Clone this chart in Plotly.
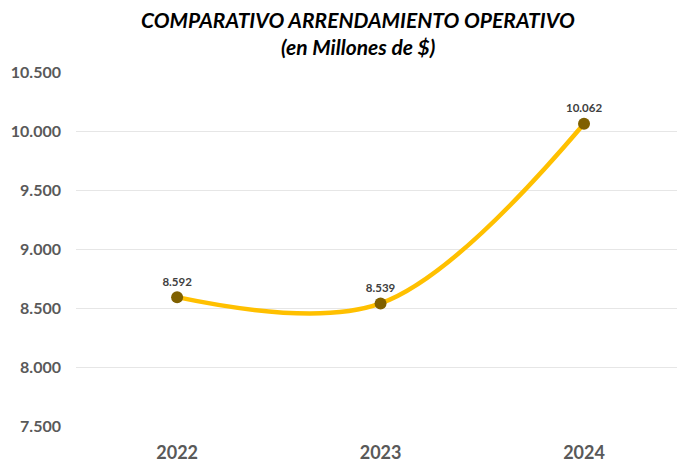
import plotly.graph_objects as go

years = ["2022", "2023", "2024"]
values = [8592, 8539, 10062]
labels = ["8.592", "8.539", "10.062"]
ytick_vals = [7500, 8000, 8500, 9000, 9500, 10000, 10500]
ytick_text = ["7.500", "8.000", "8.500", "9.000", "9.500", "10.000", "10.500"]
title_lines = ["COMPARATIVO ARRENDAMIENTO OPERATIVO", "(en Millones de $)"]

FONT = "Lato, Open Sans, sans-serif"

fig = go.Figure()
fig.add_trace(go.Scatter(
    x=list(range(len(years))), y=values,
    mode="lines+markers+text",
    line=dict(color="#FFC000", width=4.5, shape="spline", smoothing=1.0),
    marker=dict(color="#7F6000", size=12),
    text=labels, textposition="top center",
    textfont=dict(family=FONT, size=11.5, color="#404040", weight="bold"),
    cliponaxis=False,
    hoverinfo="skip",
))

for line, ypos in zip(title_lines, [1.149, 1.073]):
    fig.add_annotation(
        text=f"<b><i>{line}</i></b>", showarrow=False,
        xref="paper", yref="paper", x=0.469, y=ypos,
        xanchor="center", yanchor="middle",
        font=dict(family=FONT, size=21, color="#000000"),
    )

fig.update_layout(
    width=677, height=463,
    margin=dict(l=76, r=0, t=72, b=35),
    paper_bgcolor="white", plot_bgcolor="white",
    showlegend=False,
    xaxis=dict(
        range=[-0.497, 2.457],
        tickvals=list(range(len(years))), ticktext=years,
        showgrid=False, zeroline=False, showline=False,
        tickfont=dict(family=FONT, size=18, color="#595959", weight="bold"),
        ticks="", ticklabelstandoff=14,
    ),
    yaxis=dict(
        range=[7500, 10500],
        tickvals=ytick_vals, ticktext=ytick_text,
        showgrid=True, gridcolor="#E6E6E6", gridwidth=1,
        zeroline=False, showline=False,
        tickfont=dict(family=FONT, size=16, color="#595959", weight="bold"),
        ticks="", ticklabelstandoff=14,
    ),
)

fig.write_html(
    "out.html",
    config={"displayModeBar": False},
    post_script="document.body.style.margin='0';document.body.style.overflow='hidden';",
)
